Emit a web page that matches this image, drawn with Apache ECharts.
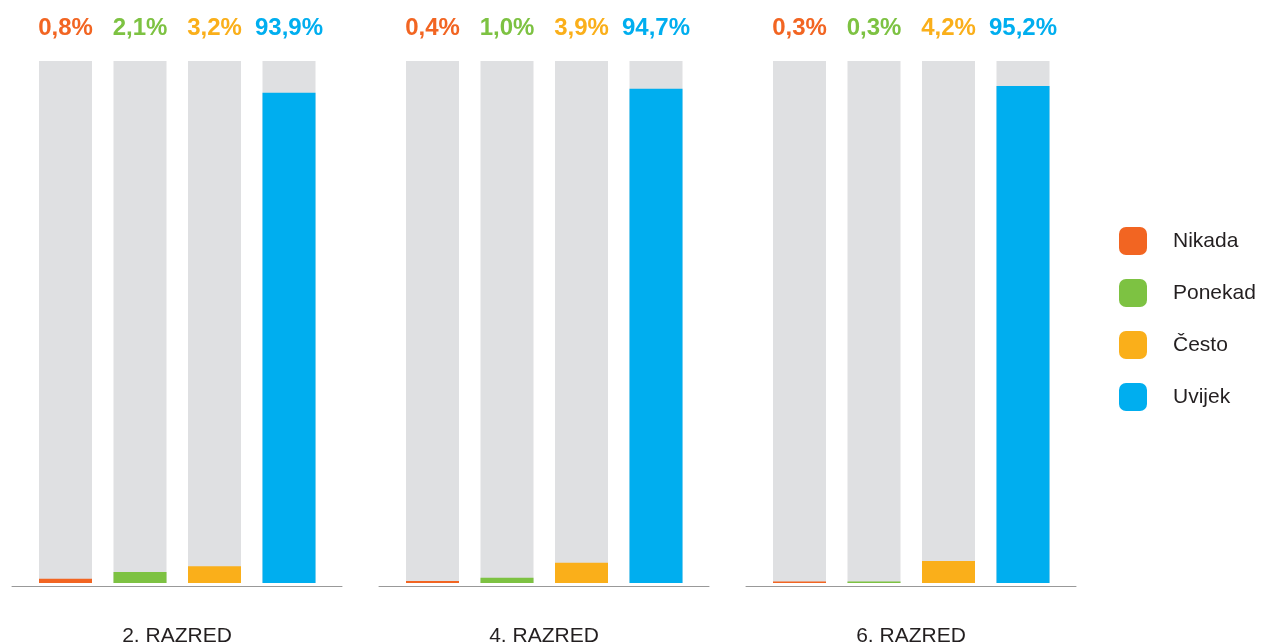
<!DOCTYPE html>
<html>
<head>
<meta charset="utf-8">
<script src="https://cdn.jsdelivr.net/npm/echarts@6/dist/echarts.min.js"></script>
<style>
  html, body { margin: 0; padding: 0; background: #fff; }
  #chart { width: 1273px; height: 644px; }
</style>
</head>
<body>
<div id="chart"></div>
<script>
// podaci
const razredi = ['2. RAZRED', '4. RAZRED', '6. RAZRED']
const odgovori = ['Nikada', 'Ponekad', 'Često', 'Uvijek']
const razred2 = [0.8, 2.1, 3.2, 93.9]
const razred4 = [0.4, 1.0, 3.9, 94.7]
const razred6 = [0.3, 0.3, 4.2, 95.2]
const ukupno = [100, 100, 100, 100]

const boje = ['#F26522', '#7DC242', '#FAAF1A', '#00AEEF']
const siva = '#DFE0E2'

const vrijednosti = [razred2, razred4, razred6]
const fmt = (v) => v.toFixed(1).replace('.', ',') + '%'

const chart = echarts.init(document.getElementById('chart'))

const grid = []
const xAxis = []
const yAxis = []
const series = []

vrijednosti.forEach((vals, g) => {
  const shift = g * 367
  // grid za stupce
  grid.push({ left: 28.25 + shift, width: 298, top: 61, height: 522, outerBoundsMode: 'none' })
  xAxis.push({
    gridIndex: g * 2,
    type: 'category',
    data: odgovori,
    axisLine: { show: false },
    axisTick: { show: false },
    axisLabel: { show: false }
  })
  yAxis.push({ gridIndex: g * 2, type: 'value', min: 0, max: 100, show: false })

  // grid samo za osnovnu liniju i naziv razreda
  grid.push({ left: 12 + shift, width: 330, top: 61, height: 525, outerBoundsMode: 'none' })
  xAxis.push({
    gridIndex: g * 2 + 1,
    type: 'value',
    min: 0,
    max: 1,
    name: razredi[g],
    nameLocation: 'middle',
    nameGap: 40,
    nameTextStyle: { fontSize: 21, color: '#231f20', fontFamily: 'Liberation Sans' },
    axisLine: { show: true, lineStyle: { color: '#999', width: 1 } },
    axisTick: { show: false },
    axisLabel: { show: false },
    splitLine: { show: false }
  })
  yAxis.push({ gridIndex: g * 2 + 1, type: 'value', min: 0, max: 1, show: false })

  // sivi stupci (100%) s oznakama
  series.push({
    type: 'bar',
    xAxisIndex: g * 2,
    yAxisIndex: g * 2,
    barWidth: 53,
    barGap: '-100%',
    silent: true,
    itemStyle: { color: siva },
    data: ukupno.map((v, i) => ({
      value: v,
      label: { color: boje[i] }
    })),
    label: {
      show: true,
      position: 'top',
      distance: 21,
      fontSize: 24,
      fontWeight: 'bold',
      fontFamily: 'Liberation Sans',
      formatter: (p) => fmt(vals[p.dataIndex])
    }
  })

  // obojeni stupci
  odgovori.forEach((name, i) => {
    series.push({
      name: name,
      type: 'bar',
      xAxisIndex: g * 2,
      yAxisIndex: g * 2,
      stack: 'r' + g,
      barWidth: 53,
      barGap: '-100%',
      itemStyle: { color: boje[i] },
      data: vals.map((v, j) => (j === i ? v : '-'))
    })
  })
})

const option = {
  animation: false,
  grid: grid,
  xAxis: xAxis,
  yAxis: yAxis,
  legend: {
    orient: 'vertical',
    left: 1119,
    top: 227,
    padding: 0,
    itemWidth: 28,
    itemHeight: 28,
    itemGap: 24,
    icon: 'roundRect',
    selectedMode: false,
    data: odgovori,
    textStyle: {
      fontSize: 21,
      color: '#231f20',
      fontFamily: 'Liberation Sans',
      padding: [0, 0, 0, 21]
    }
  },
  series: series
}

chart.setOption(option)
</script>
</body>
</html>
